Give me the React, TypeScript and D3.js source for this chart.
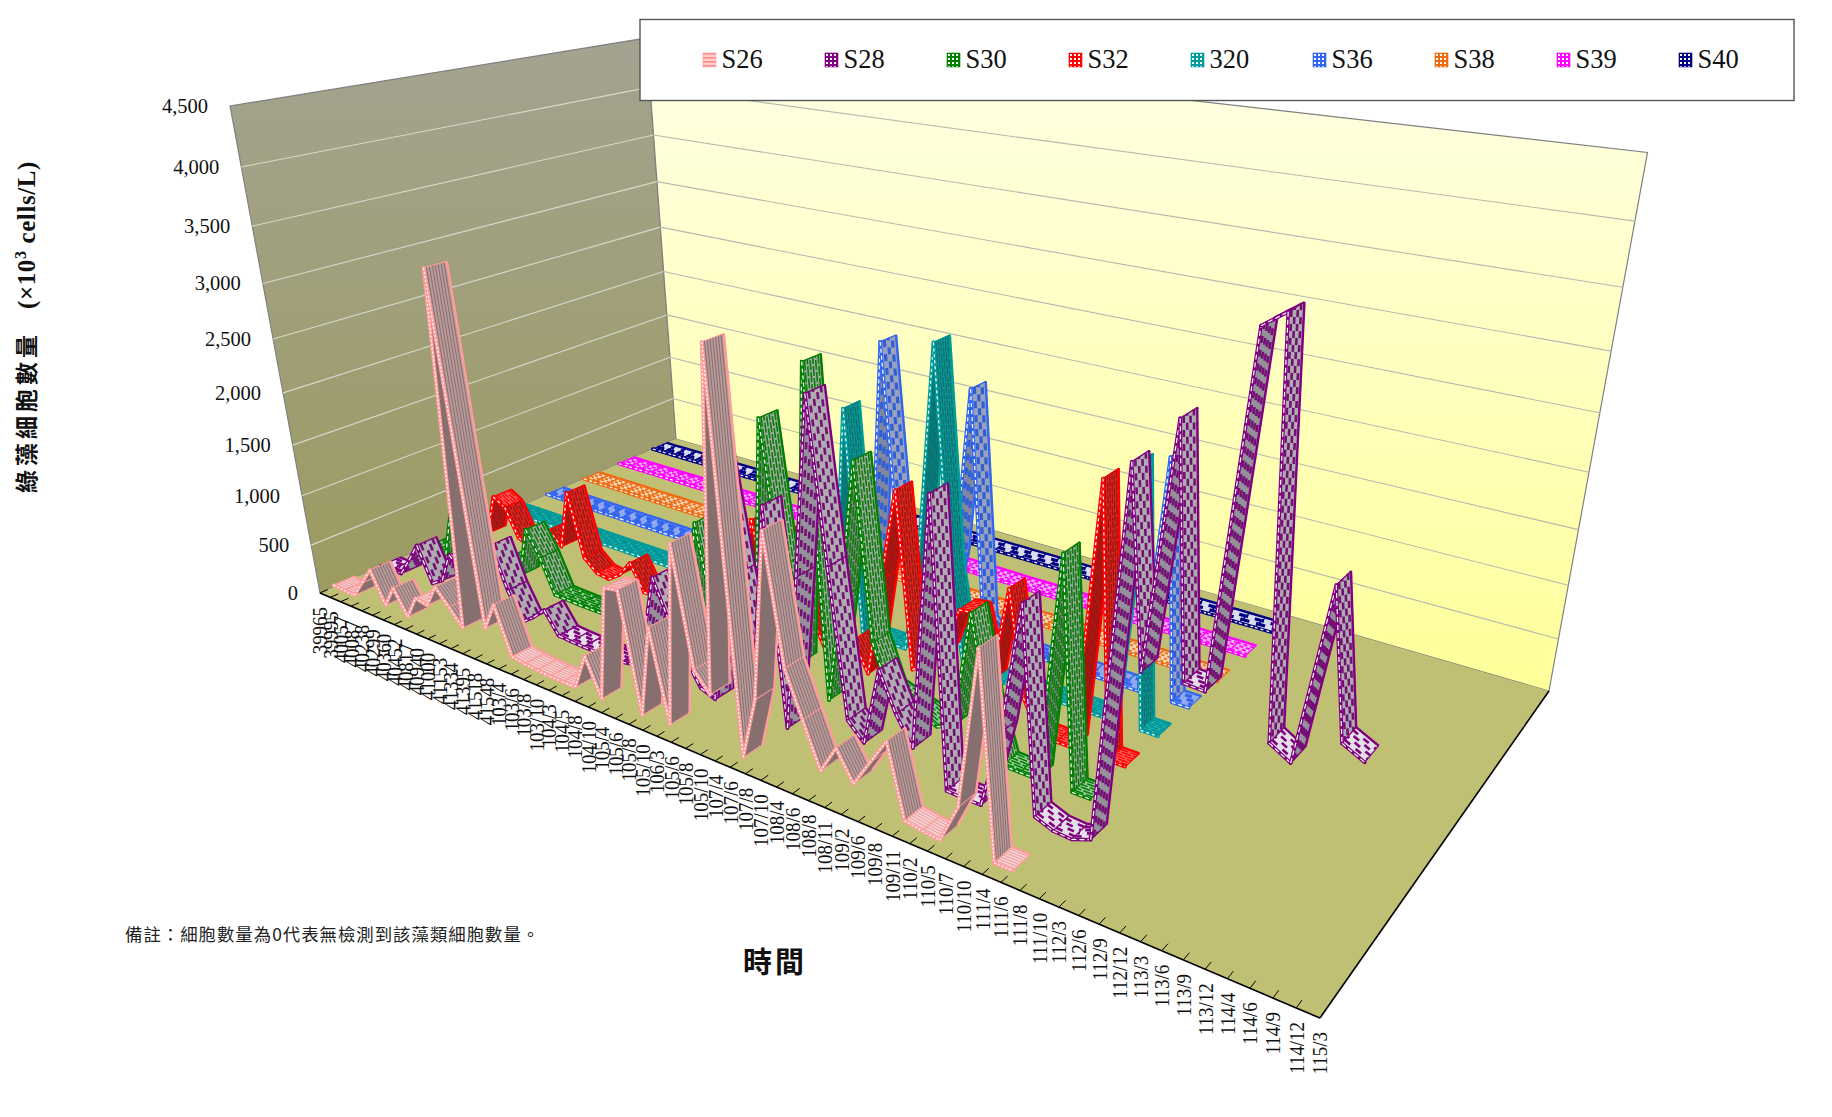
import * as d3 from 'd3';

const W = 1832;
const H = 1117;

const categories = [
  '39965', '39995', '40057', '40087', '40238', '40299', '40360', '40452',
  '40817', '40940', '41000', '41153', '41334', '41395', '41518', '41548',
  '103/4', '103/6', '103/8', '103/10', '104/3', '104/5', '104/8', '104/10',
  '105/4', '105/6', '105/8', '105/10', '106/3', '105/6', '105/8', '105/10',
  '107/4', '107/6', '107/8', '107/10', '108/4', '108/6', '108/8', '108/11',
  '109/2', '109/6', '109/8', '109/11', '110/2', '110/5', '110/7', '110/10',
  '111/4', '111/6', '111/8', '111/10', '112/3', '112/6', '112/9', '112/12',
  '113/3', '113/6', '113/9', '113/12', '114/4', '114/6', '114/9', '114/12',
  '115/3',
];

const seriesNames = ['S26', 'S28', 'S30', 'S32', '320', 'S36', 'S38', 'S39', 'S40'];

const S26 = [20, 10, 5, 180, 355, 40, 260, 15, 250, 225, 455, 300, 140, 3425, 235, 510, 50, 30, 20, 10, 10, 10, 360, 5, 1085, 1110, 10, 870, 30, 1690, 640, 470, 3370, 10, 585, 2050, 960, 570, 180, 440, 185, 430, 670, 45, 20, 5, 350, 1685, 5, 5];
const S28 = [10, 10, 15, 200, 400, 45, 120, 430, 300, 200, 450, 700, 290, 15, 110, 230, 20, 10, 5, 5, 5, 5, 30, 350, 960, 600, 300, 60, 5, 2250, 1250, 500, 1930, 5, 1410, 2930, 1585, 300, 150, 855, 520, 275, 2420, 10, 5, 5, 690, 1795, 90, 30, 20, 82, 3030, 1560, 3390, 1580, 1570, 4060, 4170, 1350, 1258, 2570, 1520, 1440];
const S30 = [5, 5, 10, 480, 300, 150, 60, 100, 230, 90, 610, 360, 20, 15, 10, 10, 10, 10, 10, 10, 10, 10, 30, 100, 1255, 400, 60, 60, 300, 2370, 1100, 250, 2930, 5, 1000, 2230, 695, 300, 250, 210, 137, 200, 1250, 500, 10, 5, 5, 1965, 5, 5];
const S32 = [5, 5, 36, 477, 400, 110, 60, 150, 320, 185, 795, 150, 30, 10, 100, 270, 5, 5, 5, 5, 5, 5, 5, 5, 300, 1125, 400, 100, 1170, 400, 100, 100, 280, 5, 950, 1795, 200, 300, 460, 905, 925, 350, 1235, 300, 5, 5, 5, 2355, 5, 5];
const S320 = [5, 5, 5, 5, 5, 5, 5, 5, 5, 5, 5, 5, 5, 5, 5, 5, 5, 5, 5, 5, 5, 5, 5, 5, 5, 5, 5, 5, 100, 2125, 5, 5, 5, 5, 1000, 2885, 900, 5, 5, 5, 5, 5, 5, 5, 5, 5, 5, 2295, 5, 5];
const S36 = [5, 5, 5, 5, 5, 5, 5, 5, 5, 5, 5, 5, 5, 5, 5, 5, 5, 5, 5, 5, 5, 5, 5, 5, 5, 5, 5, 5, 100, 2570, 800, 5, 5, 5, 700, 2335, 150, 5, 5, 5, 5, 5, 5, 5, 5, 5, 5, 2165, 5, 5];
const S38 = [0, 0, 0, 0, 0, 0, 0, 0, 0, 0, 0, 0, 0, 0, 0, 0, 0, 0, 0, 0, 0, 0, 0, 0, 0, 0, 0, 0, 0, 0, 0, 0, 0, 0, 0, 0, 0, 0, 0, 0, 0, 0, 0, 0, 0, 0, 0, 0, 0, 0];
const S39 = [0, 0, 0, 0, 0, 0, 0, 0, 0, 0, 0, 0, 0, 0, 0, 0, 0, 0, 0, 0, 0, 0, 0, 0, 0, 0, 0, 0, 0, 0, 0, 0, 0, 0, 0, 0, 0, 0, 0, 0, 0, 0, 0, 0, 0, 0, 0, 0, 0, 0];
const S40 = [0, 0, 0, 0, 0, 0, 0, 0, 0, 0, 0, 0, 0, 0, 0, 0, 0, 0, 0, 0, 0, 0, 0, 0, 0, 0, 0, 0, 0, 0, 0, 0, 0, 0, 0, 0, 0, 0, 0, 0, 0, 0, 0, 0, 0, 0, 0, 0, 0, 0];

const seriesValues: number[][] = [S26, S28, S30, S32, S320, S36, S38, S39, S40];

// line = edge colour, flat/fall/rise = ribbon shading, ink = pattern on sloped faces
const looks: Record<string, any> = {
  S26: { line: '#ff9c9c', flat: '#f2d4d4', fall: '#b89a9a', rise: '#857070', ink: '#8a6e6e', flatInk: '#f59595', lines: 7, dash: 'none', w: 1, edge: '2 2' },
  S28: { line: '#800080', flat: '#e4e0e8', fall: '#aeabb1', rise: '#94919a', ink: '#740f74', flatInk: '#800080', lines: 4, dash: '7 7', w: 2.6, edge: '5 3' },
  S30: { line: '#008000', flat: '#a0cca0', fall: '#9eac9e', rise: '#7c8a7c', ink: '#0c7a0c', flatInk: '#008000', lines: 6, dash: '10 2', w: 1.6, edge: '4 3' },
  S32: { line: '#ff0000', flat: '#ff5a5a', fall: '#d8281f', rise: '#b01a16', ink: '#a01210', flatInk: '#ff0000', lines: 6, dash: '10 2', w: 1.3, edge: '3 3' },
  '320': { line: '#009c9c', flat: '#18b4b4', fall: '#0f9494', rise: '#0b7c7c', ink: '#06706f', flatInk: '#008a8a', lines: 6, dash: '10 2', w: 1.2, edge: '3 3' },
  S36: { line: '#3366ee', flat: '#90a8f0', fall: '#9aa1bb', rise: '#80879f', ink: '#2f5fd8', flatInk: '#3366ee', lines: 3, dash: '7 7', w: 3.2, edge: '4 3' },
  S38: { line: '#f06a10', flat: '#f4d8b8', fall: '#c4a284', rise: '#a08468', ink: '#f06a10', flatInk: '#f06a10', lines: 4, dash: '3 3', w: 1.8, edge: '3 3' },
  S39: { line: '#ff00ff', flat: '#f6b4f6', fall: '#c490c4', rise: '#a078a0', ink: '#ff00ff', flatInk: '#ff00ff', lines: 4, dash: '4 3', w: 1.8, edge: '3 3' },
  S40: { line: '#000080', flat: '#dcdcf0', fall: '#a8a8c0', rise: '#8888a0', ink: '#000080', flatInk: '#000080', lines: 2, dash: '7 7', w: 3.2, edge: '3 3' },
};

const tScale = d3.scaleLinear().domain([0, categories.length - 1]).range([0, 1]);
const vScale = d3.scaleLinear().domain([0, 4500]).range([0, 1]);
const depth = d3.scaleBand<string>().domain(seriesNames).range([0, 1]).paddingInner(0.57).paddingOuter(0.285);
const legendX = d3.scaleLinear().domain([0, seriesNames.length - 1]).range([703, 1679]);

// camera fitted to the corners of the chart box: t along time, d into the page, v up
function project(t: number, d: number, v: number): [number, number] {
  const w = 1 - 0.3468 * t + 0.2365 * d - 0.128 * v;
  return [
    (542.2 * t + 515.9 * d - 119.4 * v + 320) / w - 5 * t * d * v, // trim for the far top corner
    (72 * t - 50.2 * d - 500.6 * v + 593) / w + 2.5 * t * d * v,
  ];
}

const poly = d3.line().curve(d3.curveLinearClosed);
const seg = d3.line();
const valueTicks = vScale.ticks(9);
const P = (i: number, d: number, value: number) => project(tScale(i), d, vScale(value));

function Ribbon({ name, values }: { name: string; values: number[] }) {
  const look = looks[name];
  const d0 = depth(name) as number;
  const d1 = d0 + depth.bandwidth();
  const segments = values.slice(1).map((next, k) => {
    const cur = values[k];
    const dv = next - cur;
    const isFlat = Math.abs(dv) < 120;
    const bg = isFlat ? look.flat : dv > 0 ? look.rise : look.fall;
    const ink = isFlat ? look.flatInk : look.ink;
    const front = [P(k, d0, cur), P(k + 1, d0, next)];
    return (
      <g key={k}>
        <path
          d={poly([front[0], front[1], P(k + 1, d1, next), P(k, d1, cur)]) as string}
          fill={bg}
          stroke={look.line}
          strokeWidth={1.2}
          strokeLinejoin="round"
        />
        {d3.range(look.lines).map((n) => {
          const f = d0 + ((n + 1) / (look.lines + 1)) * (d1 - d0);
          return (
            <path
              key={n}
              d={seg([P(k, f, cur), P(k + 1, f, next)]) as string}
              stroke={ink}
              strokeWidth={look.w}
              strokeDasharray={look.dash}
              strokeDashoffset={n * 5}
              fill="none"
            />
          );
        })}
        <path d={seg([P(k, d1, cur), P(k + 1, d1, next)]) as string} stroke={look.line} strokeWidth={2.4} fill="none" />
        <path d={seg(front) as string} stroke={look.line} strokeWidth={3.6} strokeLinecap="round" fill="none" />
        <path d={seg(front) as string} stroke="#fff" strokeWidth={1.2} strokeDasharray={look.edge} fill="none" />
      </g>
    );
  });
  return <g>{segments}</g>;
}

export default function App() {
  const A = project(0, 0, 0);
  const B = project(1, 0, 0);
  const C = project(1, 1, 0);
  const D = project(0, 1, 0);
  const E = project(0, 0, 1);
  const F = project(0, 1, 1);
  const G = project(1, 1, 1);

  return (
    <svg width={W} height={H} style={{ position: 'absolute', left: 0, top: 0, background: '#fff' }}>
      <defs>
        <linearGradient id="leftWall" x1="0" y1="0" x2="0" y2="1">
          <stop offset="0" stopColor="#a3a391" />
          <stop offset="1" stopColor="#9c9b60" />
        </linearGradient>
        <linearGradient id="backWall" x1="0" y1="0" x2="0" y2="1">
          <stop offset="0" stopColor="#ffffe6" />
          <stop offset="1" stopColor="#ffff99" />
        </linearGradient>
        {seriesNames.map((name) => (
          <pattern key={name} id={`swatch-${name}`} width="4" height="4" patternUnits="userSpaceOnUse">
            <rect width="4" height="4" fill={name === 'S26' ? '#ffd0d0' : looks[name].line} />
            {name === 'S26' ? (
              <rect width="4" height="1.6" fill="#ff8c8c" />
            ) : (
              <rect x="1" y="1" width="2" height="2" fill="#fff" />
            )}
          </pattern>
        ))}
      </defs>

      {/* walls and floor */}
      <path d={poly([A, E, F, D]) as string} fill="url(#leftWall)" stroke="#808080" strokeWidth={1.2} />
      <path d={poly([D, F, G, C]) as string} fill="url(#backWall)" stroke="#808080" strokeWidth={1.2} />
      <path d={poly([A, B, C, D]) as string} fill="#c0c074" />

      {/* gridlines and value axis */}
      {valueTicks.slice(1, -1).map((v) => (
        <g key={v}>
          <path d={seg([P(0, 0, v), P(0, 1, v)]) as string} stroke="#d8d8cc" strokeWidth={1.1} fill="none" />
          <path d={seg([P(0, 1, v), P(categories.length - 1, 1, v)]) as string} stroke="#b8b8b0" strokeWidth={1.1} fill="none" />
        </g>
      ))}
      {valueTicks.map((v) => {
        const [x, y] = P(0, 0, v);
        return (
          <text key={v} x={x - 22} y={y} textAnchor="end" dominantBaseline="central" fontFamily="Liberation Serif" fontSize={20.5} fill="#111">
            {d3.format(',')(v)}
          </text>
        );
      })}

      {/* ribbons, far series first */}
      {seriesNames.map((name, j) => ({ name, values: seriesValues[j] })).reverse().map((s) => (
        <Ribbon key={s.name} name={s.name} values={s.values} />
      ))}

      {/* time axis */}
      <path d={seg([A, B]) as string} stroke="#000" strokeWidth={1.6} fill="none" />
      <path d={seg([B, C]) as string} stroke="#000" strokeWidth={1.6} fill="none" />
      {categories.map((label, i) => {
        const [x, y] = P(i, 0, 0);
        return (
          <g key={i}>
            <path d={seg([[x, y], P(i, 0.018, 0)]) as string} stroke="#000" strokeWidth={1} fill="none" />
            <text
              transform={`translate(${x},${y + 14}) rotate(-90) scale(0.88,1)`}
              textAnchor="end"
              dominantBaseline="central"
              fontFamily="Liberation Serif"
              fontSize={21.5}
              fill="#111"
            >
              {label}
            </text>
          </g>
        );
      })}

      {/* legend */}
      <rect x={640} y={19.5} width={1154} height={81} fill="#fff" stroke="#555" strokeWidth={1.4} />
      {seriesNames.map((name, j) => (
        <g key={name} transform={`translate(${legendX(j)},53)`}>
          <rect width={13} height={14} fill={`url(#swatch-${name})`} stroke={looks[name].line} strokeWidth={0.6} />
          <text x={18.5} y={15} fontFamily="Liberation Serif" fontSize={26.5} fill="#111">
            {name}
          </text>
        </g>
      ))}

      {/* titles and note */}
      <text transform="translate(35,493) rotate(-90)" fontFamily="Noto Sans CJK TC" fontWeight={700} fontSize={23} letterSpacing={4} fill="#111">
        綠藻細胞數量
      </text>
      <text transform="translate(35,309) rotate(-90)" fontFamily="Liberation Serif" fontWeight={700} fontSize={25} letterSpacing={0.6} fill="#111">
        (×10<tspan dy={-9} fontSize={16}>3</tspan><tspan dy={9}> cells/L)</tspan>
      </text>
      <text x={775} y={973} textAnchor="middle" fontFamily="Noto Sans CJK TC" fontWeight={700} fontSize={29} letterSpacing={3} fill="#111">
        時間
      </text>
      <text x={125} y={941} fontFamily="Noto Sans CJK TC" fontSize={17.4} letterSpacing={1} fill="#222">
        備註：細胞數量為0代表無檢測到該藻類細胞數量。
      </text>
    </svg>
  );
}
